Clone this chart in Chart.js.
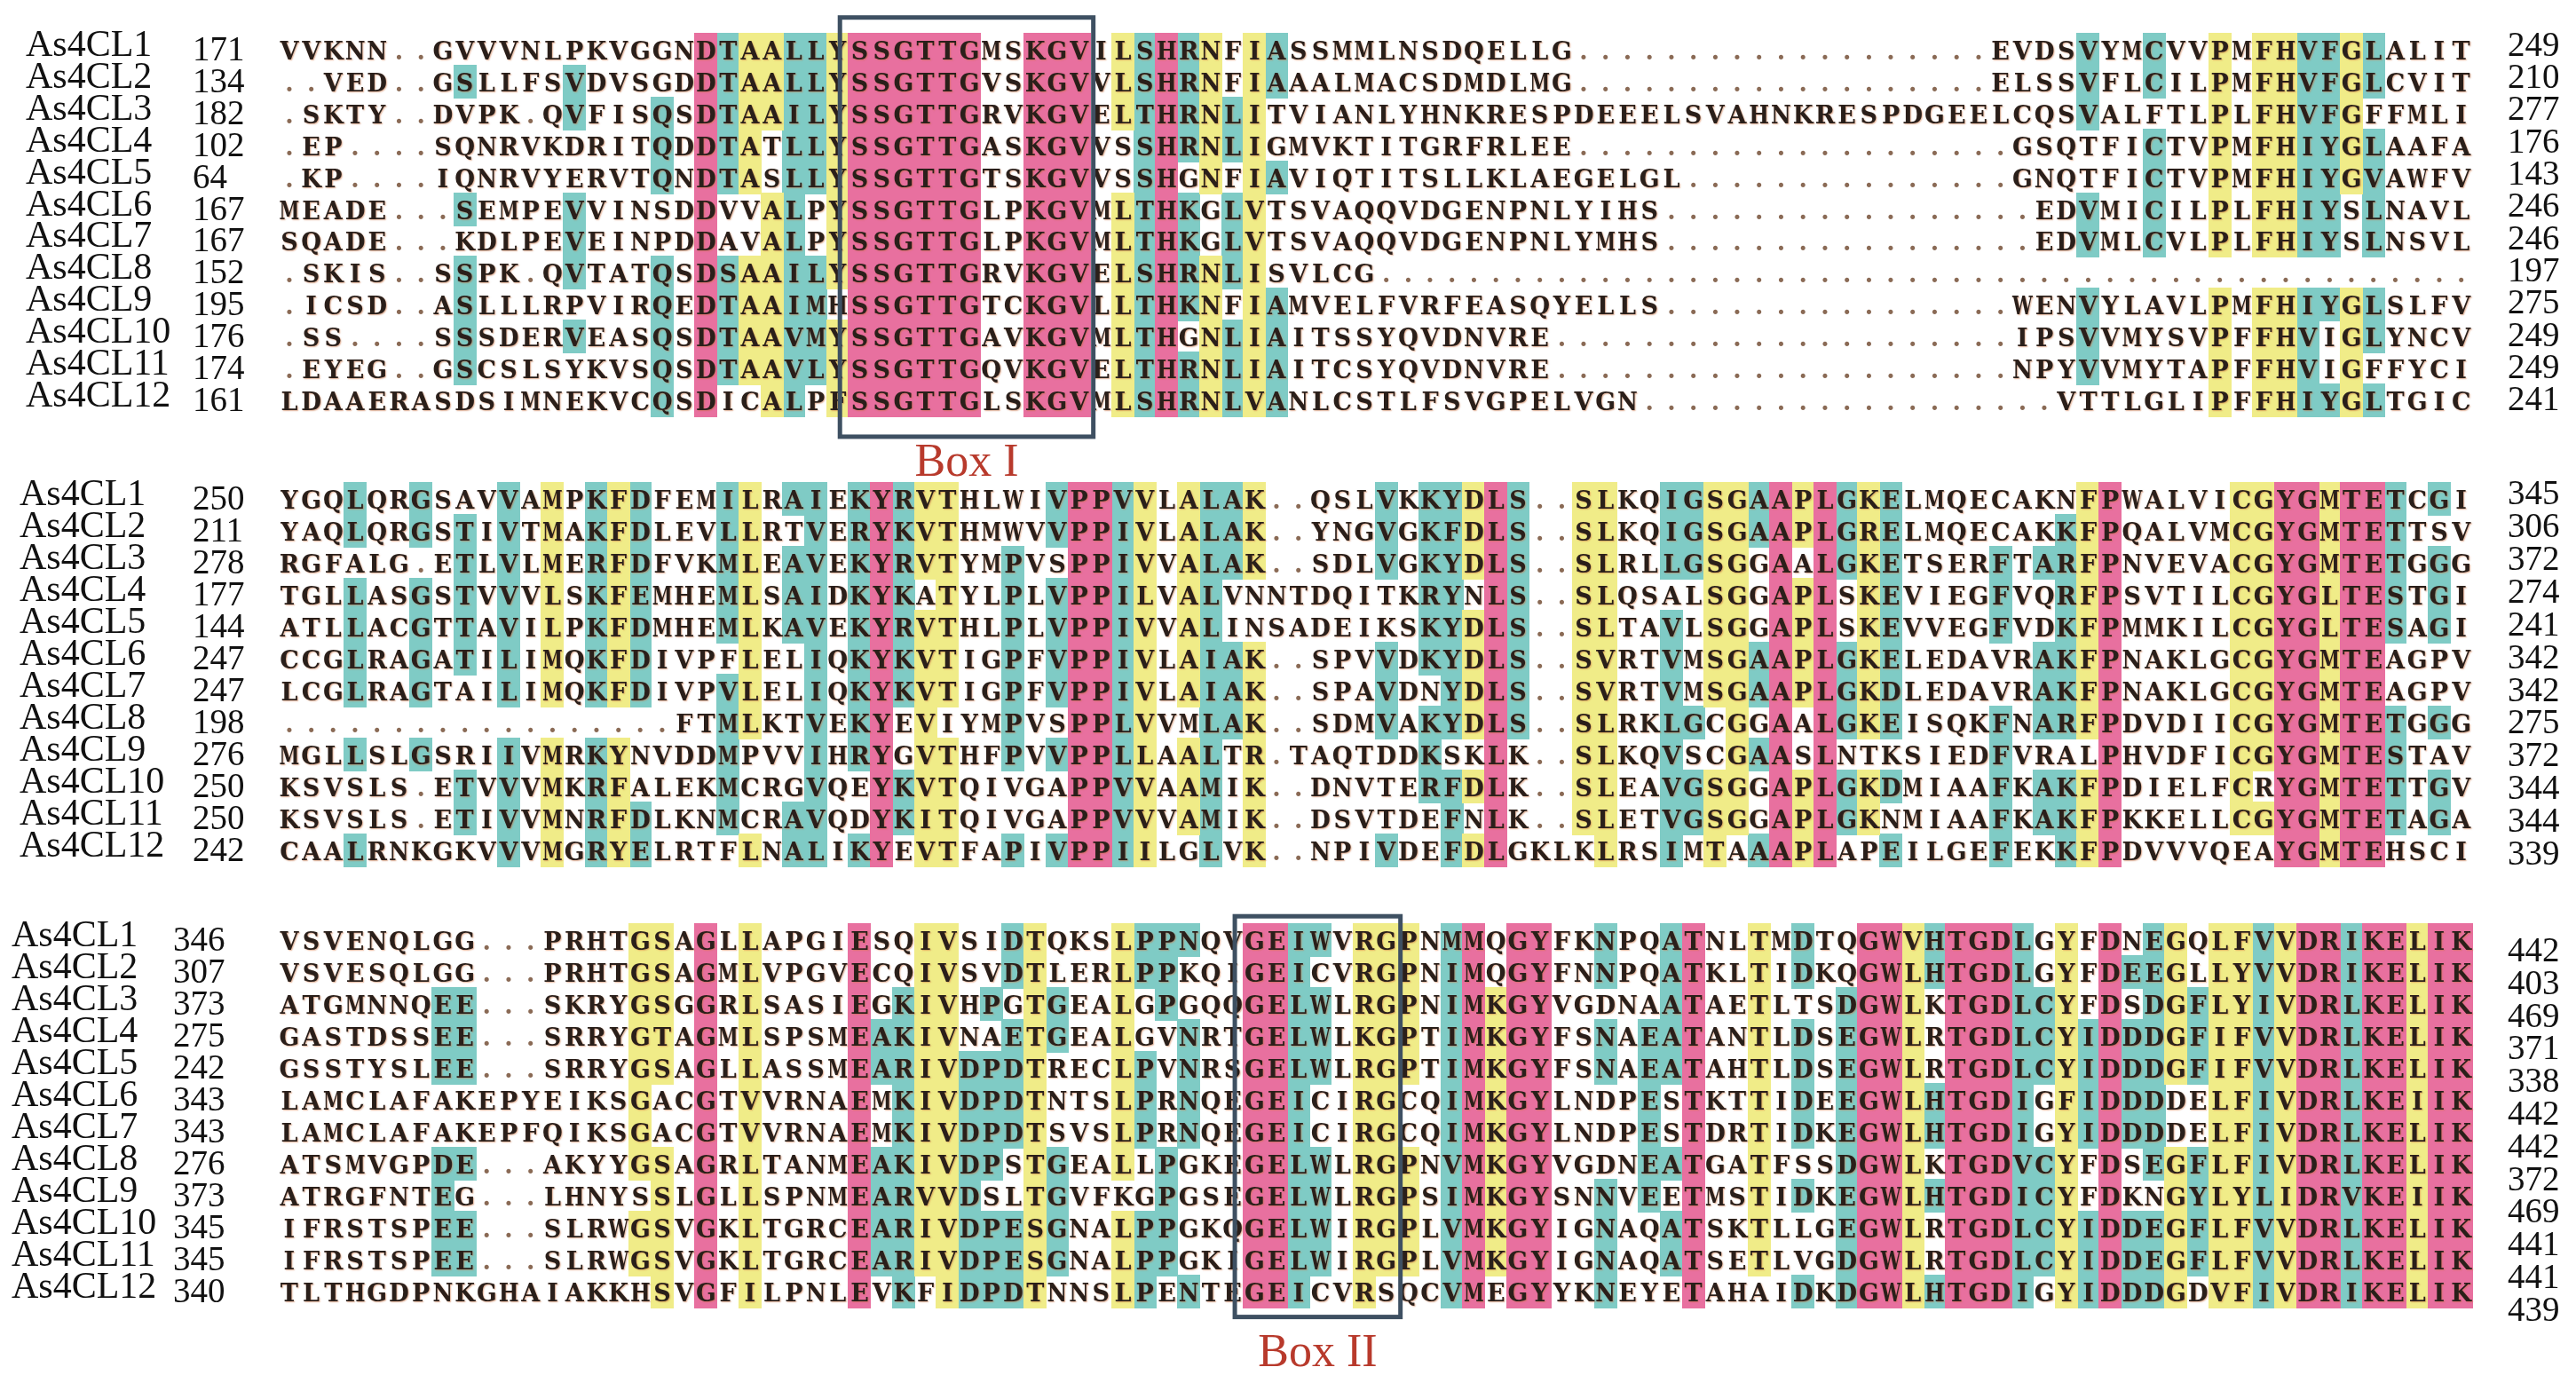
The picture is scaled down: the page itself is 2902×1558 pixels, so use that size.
<!DOCTYPE html>
<html>
<head>
<meta charset="utf-8">
<title>As4CL alignment</title>
<script src="https://cdn.jsdelivr.net/npm/chart.js@4.4.0/dist/chart.umd.min.js"></script>
<style>
  html, body { margin: 0; padding: 0; background: #ffffff; }
  canvas { display: block; }
</style>
</head>
<body>
<canvas id="msa" width="2902" height="1558"></canvas>
<script>
// Sequence names (same order in every block)
const names = ['As4CL1', 'As4CL2', 'As4CL3', 'As4CL4', 'As4CL5', 'As4CL6',
               'As4CL7', 'As4CL8', 'As4CL9', 'As4CL10', 'As4CL11', 'As4CL12'];

// Aligned residues, '.' = gap, '~' = gap run padding the row to the block width
const block1 = [
    'VVKNN..GVVVNLPKVGGNDTAALLYSSGTTGMSKGVILSHRNFIASSMMLNSDQELLG~EVDSVYMCVVPMFHVFGLALIT',
    '..VED..GSLLFSVDVSGDDTAALLYSSGTTGVSKGVVLSHRNFIAAALMACSDMDLMG~ELSSVFLCILPMFHVFGLCVIT',
    '.SKTY..DVPK.QVFISQSDTAAILYSSGTTGRVKGVELTHRNLITVIANLYHNKRESPDEEELSVAHNKRESPDGEELCQSVALFTLPLFHVFGFFMLI',
    '.EP....SQNRVKDRITQDDTATLLYSSGTTGASKGVVSSHRNLIGMVKTITGRFRLEE~GSQTFICTVPMFHIYGLAAFA',
    '.KP....IQNRVYERVTQNDTASLLYSSGTTGTSKGVVSSHGNFIAVIQTITSLLKLAEGELGL~GNQTFICTVPMFHIYGVAWFV',
    'MEADE...SEMPEVVINSDDVVALPYSSGTTGLPKGVMLTHKGLVTSVAQQVDGENPNLYIHS~EDVMICILPLFHIYSLNAVL',
    'SQADE...KDLPEVEINPDDAVALPYSSGTTGLPKGVMLTHKGLVTSVAQQVDGENPNLYMHS~EDVMLCVLPLFHIYSLNSVL',
    '.SKIS..SSPK.QVTATQSDSAAILYSSGTTGRVKGVELSHRNLISVLCG~',
    '.ICSD..ASLLLRPVIRQEDTAAIMHSSGTTGTCKGVLLTHKNFIAMVELFVRFEASQYELLS~WENVYLAVLPMFHIYGLSLFV',
    '.SS....SSSDERVEASQSDTAAVMYSSGTTGAVKGVMLTHGNLIAITSSYQVDNVRE~IPSVVMYSVPFFHVIGLYNCV',
    '.EYEG..GSCSLSYKVSQSDTAAVLYSSGTTGQVKGVELTHRNLIAITCSYQVDNVRE~NPYVVMYTAPFFHVIGFFYCI',
    'LDAAERASDSIMNEKVCQSDICALPFSSGTTGLSKGVMLSHRNLVANLCSTLFSVGPELVGN~VTTLGLIPFFHIYGLTGIC'
];
const block2 = [
    'YGQLQRGSAVVAMPKFDFEMILRAIEKYRVTHLWIVPPVVLALAK..QSLVKKYDLS..SLKQIGSGAAPLGKELMQECAKNFPWALVICGYGMTETCGI',
    'YAQLQRGSTIVTMAKFDLEVLLRTVERYKVTHMWVVPPIVLALAK..YNGVGKFDLS..SLKQIGSGAAPLGRELMQECAKKFPQALVMCGYGMTETTSV',
    'RGFALG.ETLVLMERFDFVKMLEAVEKYRVTYMPVSPPIVVALAK..SDLVGKYDLS..SLRLLGSGGAALGKETSERFTARFPNVEVACGYGMTETGGG',
    'TGLLASGSTVVVLSKFEMHEMLSAIDKYKATYLPLVPPILVALVNNTDQITKRYNLS..SLQSALSGGAPLSKEVIEGFVQRFPSVTILCGYGLTESTGI',
    'ATLLACGTTAVILPKFDMHEMLKAVEKYRVTHLPLVPPIVVALINSADEIKSKYDLS..SLTAVLSGGAPLSKEVVEGFVDKFPMMKILCGYGLTESAGI',
    'CCGLRAGATILIMQKFDIVPFLELIQKYKVTIGPFVPPIVLAIAK..SPVVDKYDLS..SVRTVMSGAAPLGKELEDAVRAKFPNAKLGCGYGMTEAGPV',
    'LCGLRAGTAILIMQKFDIVPVLELIQKYKVTIGPFVPPIVLAIAK..SPAVDNYDLS..SVRTVMSGAAPLGKDLEDAVRAKFPNAKLGCGYGMTEAGPV',
    '~FTMLKTVEKYEVIYMPVSPPLVVMLAK..SDMVAKYDLS..SLRKLGCGGAALGKEISQKFNARFPDVDIICGYGMTETGGG',
    'MGLLSLGSRIIVMRKYNVDDMPVVIHRYGVTHFPVVPPLLAALTR.TAQTDDKSKLK..SLKQVSCGAASLNTKSIEDFVRALPHVDFICGYGMTESTAV',
    'KSVSLS.ETVVVMKRFALEKMCRGVQEYKVTQIVGAPPVVAAMIK..DNVTERFDLK..SLEAVGSGGAPLGKDMIAAFKAKFPDIELFCRYGMTETTGV',
    'KSVSLS.ETIVVMNRFDLKNMCRAVQDYKITQIVGAPPVVVAMIK..DSVTDEFNLK..SLETVGSGGAPLGKNMIAAFKAKFPKKELLCGYGMTETAGA',
    'CAALRNKGKVVVMGRYELRTFLNALIKYEVTFAPIVPPIILGLVK..NPIVDEFDLGKLKLRSIMTAAAPLAPEILGEFEKKFPDVVVQEAYGMTEHSCI'
];
const block3 = [
    'VSVENQLGG...PRHTGSAGLLAPGIESQIVSIDTQKSLPPNQVGEIWVRGPNMMQGYFKNPQATNLTMDTQGWVHTGDLGYFDNEGQLFVVDRIKELIK',
    'VSVESQLGG...PRHTGSAGMLVPGVECQIVSVDTLERLPPKQIGEICVRGPNIMQGYFNNPQATKLTIDKQGWLHTGDLGYFDEEGLLYVVDRIKELIK',
    'ATGMNNQEE...SKRYGSGGRLSASIEGKIVHPGTGEALGPGQQGELWLRGPNIMKGYVGDNAATAETLTSDGWLKTGDLCYFDSDGFLYIVDRLKELIK',
    'GASTDSSEE...SRRYGTAGMLSPSMEAKIVNAETGEALGVNRTGELWLKGPTIMKGYFSNAEATANTLDSEGWLRTGDLCYIDDDGFIFVVDRLKELIK',
    'GSSTYSLEE...SRRYGSAGLLASSMEARIVDPDTRECLPVNRSGELWLRGPTIMKGYFSNAEATAHTLDSEGWLRTGDLCYIDDDGFIFVVDRLKELIK',
    'LAMCLAFAKEPYEIKSGACGTVVRNAEMKIVDPDTNTSLPRNQEGEICIRGCQIMKGYLNDPESTKTTIDEEGWLHTGDIGFIDDDDELFIVDRLKEIIK',
    'LAMCLAFAKEPFQIKSGACGTVVRNAEMKIVDPDTSVSLPRNQEGEICIRGCQIMKGYLNDPESTDRTIDKEGWLHTGDIGYIDDDDELFIVDRLKELIK',
    'ATSMVGPDE...AKYYGSAGRLTANMEAKIVDPSTGEALLPGKEGELWLRGPNVMKGYVGDNEATGATFSSDGWLKTGDVCYFDSEGFLFIVDRLKELIK',
    'ATRGFNTEG...LHNYSSLGLLSPNMEARVVDSLTGVFKGPGSEGELWLRGPSIMKGYSNNVEETMSTIDKEGWLHTGDICYFDKNGYLYLIDRVKEIIK',
    'IFRSTSPEE...SLRWGSVGKLTGRCEARIVDPESGNALPPGKQGELWIRGPLVMKGYIGNAQATSKTLLGEGWLRTGDLCYIDDEGFLFVVDRLKELIK',
    'IFRSTSPEE...SLRWGSVGKLTGRCEARIVDPESGNALPPGKIGELWIRGPLVMKGYIGNAQATSETLVGDGWLRTGDLCYIDDEGFLFVVDRLKELIK',
    'TLTHGDPNKGHAIAKKHSVGFILPNLEVKFIDPDTNNSLPENTEGEICVRSQCVMEGYYKNEYETAHAIDKDGWLHTGDIGYIDDDGDVFIVDRIKELIK'
];

// Residue numbers at the left and right of each row
const start1 = [171, 134, 182, 102, 64, 167, 167, 152, 195, 176, 174, 161];
const end1   = [249, 210, 277, 176, 143, 246, 246, 197, 275, 249, 249, 241];
const start2 = [250, 211, 278, 177, 144, 247, 247, 198, 276, 250, 250, 242];
const end2   = [345, 306, 372, 274, 241, 342, 342, 275, 372, 344, 344, 339];
const start3 = [346, 307, 373, 275, 242, 343, 343, 276, 373, 345, 345, 340];
const end3   = [442, 403, 469, 371, 338, 442, 442, 372, 469, 441, 441, 439];

// Motif boxes: block, first column, last column
const boxLabels = ['Box I', 'Box II'];
const boxBlocks = [0, 2];
const boxFirstCol = [27, 45];
const boxLastCol = [37, 51];

// ---- layout ----
const W = 2902, H = 1558;
const BLOCK_WIDTH = 100;
const COL_PITCH = 24.8, COL1_X = 322;     // px
const ROW_PITCH = 36.2, ROW1_Y = 51;      // px
const blockFirstRowY = [51, 561, 1061];   // px centre of the first row of each block
const nameX = [29, 22, 13];
const startX = [217, 217, 195];
const endX = 2825;
const endShift = [[7, 0.35], [6, 0.9], [24, 0.8]]; // baseline offset, extra drift per row

const PINK = '#e8709f', YELLOW = '#f0ec88', CYAN = '#7fcbc5';
const LEVEL_YELLOW = 9, LEVEL_CYAN = 6;
const SIMILAR = ['ILVM', 'FYW', 'DE', 'NQ', 'KR', 'ST'];

function expandRow(s) {
    const i = s.indexOf('~');
    if (i < 0) return s;
    return s.slice(0, i) + '.'.repeat(BLOCK_WIDTH - (s.length - 1)) + s.slice(i + 1);
}
const blocks = [block1, block2, block3].map(b => b.map(expandRow));
const starts = [start1, start2, start3];
const ends = [end1, end2, end3];

blocks.forEach((b, bi) => b.forEach((s, ri) => {
    if (s.length !== BLOCK_WIDTH) throw new Error('block ' + (bi + 1) + ' row ' + (ri + 1) + ' has ' + s.length);
}));

const blockOffset = blockFirstRowY.map(p => (p - ROW1_Y) / ROW_PITCH);

function similar(a, b) {
    return a === b || SIMILAR.some(g => g.includes(a) && g.includes(b));
}

// shade cells by column conservation
const pinkPts = [], yellowPts = [], cyanPts = [];
blocks.forEach((rows, bi) => {
    for (let c = 0; c < BLOCK_WIDTH; c++) {
        const counts = {};
        rows.forEach(s => { const ch = s[c]; if (ch !== '.') counts[ch] = (counts[ch] || 0) + 1; });
        let best = null, n = 0;
        Object.keys(counts).forEach(k => { if (counts[k] > n) { n = counts[k]; best = k; } });
        let target = null;
        if (n === rows.length) target = pinkPts;
        else if (n >= LEVEL_YELLOW) target = yellowPts;
        else if (n >= LEVEL_CYAN) target = cyanPts;
        if (!target) continue;
        rows.forEach((s, ri) => {
            const ch = s[c];
            if (ch !== '.' && similar(ch, best)) target.push({ x: c + 1, y: blockOffset[bi] + ri });
        });
    }
});

function cellStyle(color) {
    const cv = document.createElement('canvas');
    cv.width = Math.ceil(COL_PITCH) + 1;
    cv.height = Math.ceil(ROW_PITCH) + 1;
    const g = cv.getContext('2d');
    g.fillStyle = color;
    g.fillRect(0, 0, cv.width, cv.height);
    return cv;
}

const xMin = 1 - COL1_X / COL_PITCH;
const yMin = -ROW1_Y / ROW_PITCH;

// letters, names, numbers and boxes on top of the shaded cells
const alignmentText = {
    id: 'alignmentText',
    afterDatasetsDraw(chart) {
        const ctx = chart.ctx;
        const xs = chart.scales.x, ys = chart.scales.y;
        ctx.save();
        blocks.forEach((rows, bi) => {
            rows.forEach((s, ri) => {
                const yc = ys.getPixelForValue(blockOffset[bi] + ri);

                ctx.shadowColor = 'transparent';
                ctx.fillStyle = '#111111';
                ctx.textAlign = 'left';
                ctx.textBaseline = 'alphabetic';
                ctx.font = '42px "Liberation Serif"';
                ctx.fillText(names[ri], nameX[bi], yc + 7);
                ctx.font = '39px "Liberation Serif"';
                ctx.fillText(String(starts[bi][ri]), startX[bi], yc + 12);
                ctx.fillText(String(ends[bi][ri]), endX, yc + endShift[bi][0] + endShift[bi][1] * ri);

                ctx.textAlign = 'center';
                ctx.font = 'bold 27px "DejaVu Serif"';
                for (let c = 0; c < BLOCK_WIDTH; c++) {
                    const ch = s[c];
                    const xc = xs.getPixelForValue(c + 1);
                    if (ch === '.') {
                        ctx.shadowColor = 'transparent';
                        ctx.fillStyle = '#8a6a55';
                        ctx.fillText('.', xc, yc + 11);
                    } else {
                        ctx.shadowColor = 'rgba(200,110,60,0.55)';
                        ctx.shadowOffsetX = 1;
                        ctx.shadowOffsetY = 1;
                        ctx.shadowBlur = 1.5;
                        ctx.fillStyle = '#2a1f1a';
                        ctx.fillText(ch, xc, yc + 11, COL_PITCH - 2);
                    }
                }
            });
        });

        ctx.shadowColor = 'transparent';
        boxLabels.forEach((label, i) => {
            const off = blockOffset[boxBlocks[i]];
            const x0 = xs.getPixelForValue(boxFirstCol[i] - 0.9);
            const x1 = xs.getPixelForValue(boxLastCol[i] + 0.65);
            const y0 = ys.getPixelForValue(off - (i === 0 ? 1.0 : 0.75));
            const y1 = ys.getPixelForValue(off + (i === 0 ? 12.13 : 11.8));
            ctx.strokeStyle = '#3e5062';
            ctx.lineWidth = 5;
            ctx.strokeRect(x0, y0, x1 - x0, y1 - y0);
            ctx.fillStyle = '#b83a2c';
            ctx.textAlign = 'center';
            ctx.font = '52px "Liberation Serif"';
            ctx.fillText(label, (x0 + x1) / 2, ys.getPixelForValue(off + 13.35));
        });
        ctx.restore();
    }
};

const ctx = document.getElementById('msa').getContext('2d');
const chart = new Chart(ctx, {
    type: 'scatter',
    data: {
        datasets: [
            { label: '100%', data: pinkPts, pointStyle: cellStyle(PINK), pointRadius: 1 },
            { label: '>=75%', data: yellowPts, pointStyle: cellStyle(YELLOW), pointRadius: 1 },
            { label: '>=50%', data: cyanPts, pointStyle: cellStyle(CYAN), pointRadius: 1 }
        ]
    },
    options: {
        responsive: false,
        animation: false,
        devicePixelRatio: 1,
        events: [],
        layout: { padding: 0 },
        plugins: {
            legend: { display: false },
            tooltip: { enabled: false }
        },
        scales: {
            x: { type: 'linear', min: xMin, max: xMin + W / COL_PITCH, display: false },
            y: { type: 'linear', min: yMin, max: yMin + H / ROW_PITCH, reverse: true, display: false }
        }
    },
    plugins: [alignmentText]
});
</script>
</body>
</html>
